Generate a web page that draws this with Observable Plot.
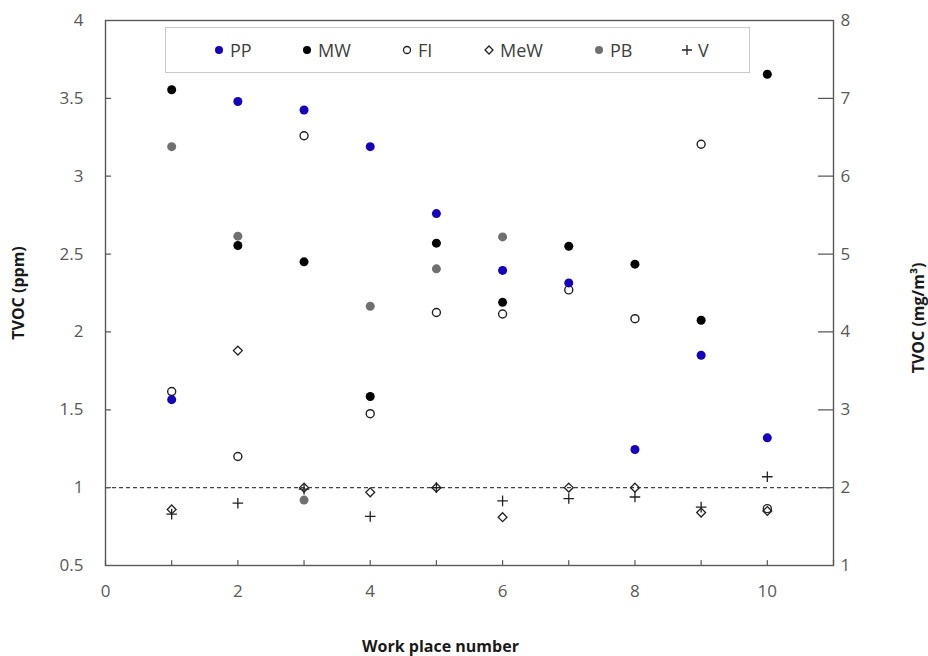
<!DOCTYPE html>
<html>
<head>
<meta charset="utf-8">
<script src="https://cdn.jsdelivr.net/npm/d3@7"></script>
<script src="https://cdn.jsdelivr.net/npm/@observablehq/plot@0.6"></script>
<style>
  html, body { margin: 0; padding: 0; background: #fff; }
  #wrap { position: relative; width: 928px; height: 656px; font-family: "Open Sans", sans-serif; }
  #legend { position: absolute; left: 165px; top: 27px; width: 583px; height: 44px;
            border: 1.5px solid #c9c9c9; background: #fff; }
  .item { position: absolute; top: 0; height: 44px; display: flex; align-items: center;
          font-size: 18px; color: #404040; white-space: nowrap; }
  .item svg { margin-right: 6px; }
</style>
</head>
<body>
<div id="wrap"><div id="legend"></div></div>
<script>
// ---- data ----
const workplaces = [1, 2, 3, 4, 5, 6, 7, 8, 9, 10];
const PP  = [1.565, 3.48, 3.425, 3.19, 2.76, 2.395, 2.315, 1.245, 1.85, 1.32];
const MW  = [3.555, 2.555, 2.45, 1.585, 2.57, 2.19, 2.55, 2.435, 2.075, 3.655];
const FI  = [1.617, 1.20, 3.26, 1.475, 2.125, 2.115, 2.27, 2.085, 3.205, 0.865];
const MeW = [0.86, 1.88, 1.00, 0.97, 1.00, 0.81, 1.00, 1.00, 0.84, 0.85];
const PB  = [3.19, 2.615, 0.92, 2.165, 2.405, 2.61];
const V   = [0.83, 0.90, 0.99, 0.815, 1.00, 0.915, 0.93, 0.94, 0.875, 1.07];
const limitPpm = [1.0];

const seriesNames = ["PP", "MW", "FI", "MeW", "PB", "V"];
const xTicks = [0, 1, 2, 3, 4, 5, 6, 7, 8, 9, 10, 11];
const xLabels = [0, 2, 4, 6, 8, 10];
const yTicks = [0.5, 1, 1.5, 2, 2.5, 3, 3.5, 4];
const rightTickLabels = [1, 2, 3, 4, 5, 6, 7, 8];

const xTitle = "Work place number";
const yTitle = "TVOC (ppm)";
const y2Title = "TVOC (mg/m³)";

// ---- styles ----
const BLUE = "#1500bd", GRAY = "#707070", INK = "#222", AXIS = "#595959";

const rows = (vals) => vals.map((v, i) => ({x: workplaces[i], y: v}));
const tickShape = {draw(context, l) { context.moveTo(0, 0); context.lineTo(0, -l); }};

const chart = Plot.plot({
  width: 928,
  height: 656,
  marginLeft: 105,
  marginRight: 95,
  marginTop: 20,
  marginBottom: 91,
  style: {fontFamily: "Open Sans, sans-serif", fontSize: "17px", color: AXIS, background: "white", overflow: "visible"},
  x: {domain: [0, 11]},
  y: {domain: [0.5, 4]},
  marks: [
    Plot.ruleY(limitPpm, {stroke: "#444", strokeWidth: 1.2, strokeDasharray: "4,3"}),
    // axes: labels
    Plot.axisX(xLabels, {tickSize: 0, tickPadding: 19, tickFormat: d => String(d), label: null, fill: AXIS}),
    Plot.axisY(yTicks, {anchor: "left", tickSize: 0, tickPadding: 22, tickFormat: d => String(d), label: null, fill: AXIS}),
    Plot.axisY(yTicks, {anchor: "right", tickSize: 0, tickPadding: 7, tickFormat: (d, i) => String(rightTickLabels[i]), label: null, fill: AXIS}),
    // inward tick marks
    Plot.vector(yTicks, {x: 0, y: d => d, length: 5, rotate: 90, anchor: "start", shape: tickShape, stroke: AXIS, strokeWidth: 1.2}),
    Plot.vector(yTicks, {x: 11, y: d => d, length: 15, rotate: -90, anchor: "start", shape: tickShape, stroke: AXIS, strokeWidth: 1.2}),
    Plot.vector(xTicks, {x: d => d, y: 0.5, length: 5, rotate: 0, anchor: "start", shape: tickShape, stroke: AXIS, strokeWidth: 1.2}),
    Plot.frame({stroke: AXIS, strokeWidth: 1.4}),
    // titles
    Plot.text([yTitle], {frameAnchor: "left", textAnchor: "middle", dx: -87, rotate: -90, fontWeight: "bold", fontSize: 16, fill: "#1a1a1a"}),
    Plot.text([y2Title], {frameAnchor: "right", textAnchor: "middle", dx: 85, dy: 25, rotate: -90, fontWeight: "bold", fontSize: 16, fill: "#1a1a1a"}),
    Plot.text([xTitle], {frameAnchor: "bottom", textAnchor: "middle", dx: -29, dy: 86, fontWeight: "bold", fontSize: 16, fill: "#1a1a1a"}),
    // series
    Plot.dot(rows(PB), {x: "x", y: "y", r: 4.5, fill: GRAY}),
    Plot.dot(rows(MW), {x: "x", y: "y", r: 4.5, fill: "#000"}),
    Plot.dot(rows(FI), {x: "x", y: "y", r: 4, fill: "none", stroke: INK, strokeWidth: 1.4}),
    Plot.dot(rows(PP), {x: "x", y: "y", r: 4.5, fill: BLUE}),
    Plot.dot(rows(MeW), {x: "x", y: "y", r: 4, symbol: "diamond2", fill: "none", stroke: INK, strokeWidth: 1.3}),
    Plot.dot(rows(V), {x: "x", y: "y", r: 3.5, symbol: "plus", fill: "none", stroke: INK, strokeWidth: 1.3})
  ]
});
document.getElementById("wrap").prepend(chart);

// ---- legend ----
const markerSvg = {
  PP:  `<circle cx="5" cy="5" r="4" fill="${BLUE}"/>`,
  MW:  `<circle cx="5" cy="5" r="4" fill="#000"/>`,
  FI:  `<circle cx="5" cy="5" r="3.5" fill="none" stroke="${INK}" stroke-width="1.3"/>`,
  MeW: `<path d="M5,1 L9,5 L5,9 L1,5 Z" fill="none" stroke="${INK}" stroke-width="1.3"/>`,
  PB:  `<circle cx="5" cy="5" r="4" fill="${GRAY}"/>`,
  V:   `<path d="M0,5 H10 M5,0 V10" stroke="${INK}" stroke-width="1.3"/>`
};
const legendLeft = [48, 136, 236, 318, 428, 516];
const legend = document.getElementById("legend");
seriesNames.forEach((name, i) => {
  const el = document.createElement("div");
  el.className = "item";
  el.style.left = legendLeft[i] + "px";
  el.innerHTML = `<svg width="10" height="10" viewBox="0 0 10 10">${markerSvg[name]}</svg><span>${name}</span>`;
  legend.appendChild(el);
});
</script>
</body>
</html>
